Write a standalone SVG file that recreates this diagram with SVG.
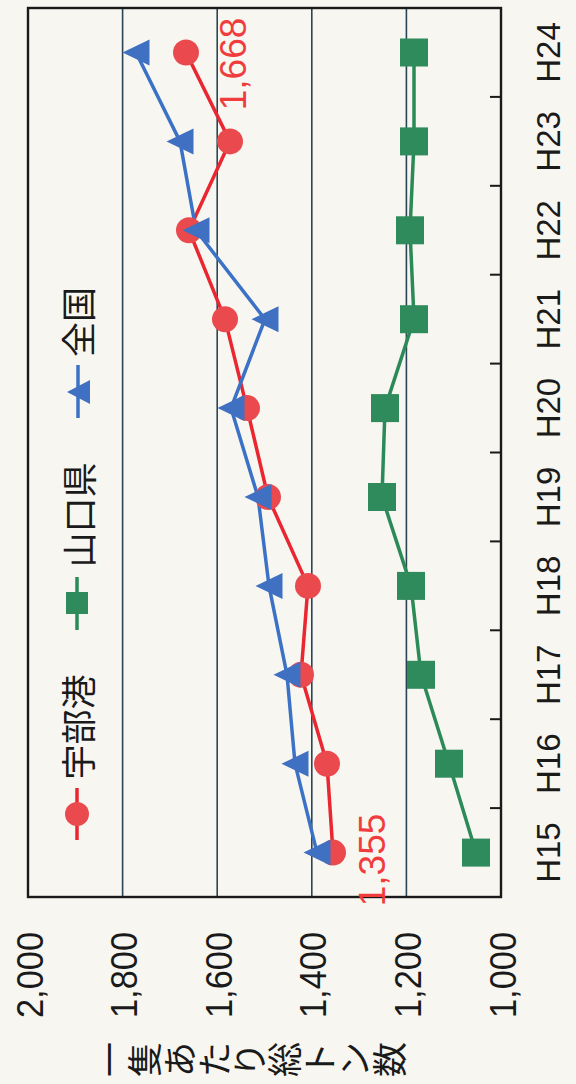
<svg xmlns="http://www.w3.org/2000/svg" width="576" height="1084" viewBox="0 0 576 1084">
<style>
.num{font-family:"Liberation Sans",Arial,sans-serif;font-size:37px;fill:#1a1a1a}
.cat{font-family:"Liberation Sans",Arial,sans-serif;font-size:33px;fill:#1a1a1a}
.jp{font-family:"Noto Sans CJK JP","Noto Sans CJK SC",sans-serif;font-size:35px;fill:#1a1a1a}
.lbl{font-family:"Liberation Sans",Arial,sans-serif;font-size:37px;fill:#f03c3c}
.grid{stroke:#2a4656;stroke-width:1.6;fill:none}
.frame{stroke:#1a1a1a;stroke-width:2.4;fill:none}
.tick{stroke:#1a1a1a;stroke-width:2}
.lred{stroke:#ea2630;stroke-width:3.5;fill:none;stroke-linejoin:round}
.lgreen{stroke:#2b8a58;stroke-width:3.5;fill:none;stroke-linejoin:round}
.lblue{stroke:#3b72c6;stroke-width:3.5;fill:none;stroke-linejoin:round}
.mred{fill:#ea4a4e}
.mgreen{fill:#2f8a5c}
.mblue{fill:#3f70c2}
</style>
<defs>
<circle id="dot" r="13"/>
<rect id="sq" x="-14" y="-14" width="28" height="28"/>
<polygon id="tri" points="-13.5,0 13.5,-13 13.5,13"/>
</defs>
<rect x="0" y="0" width="576" height="1084" fill="#f7f6f1"/>

<g id="plot-area">
<line class="grid" x1="122.6" y1="8" x2="122.6" y2="897"/>
<line class="grid" x1="217.2" y1="8" x2="217.2" y2="897"/>
<line class="grid" x1="311.8" y1="8" x2="311.8" y2="897"/>
<line class="grid" x1="406.4" y1="8" x2="406.4" y2="897"/>
<rect class="frame" x="28" y="8" width="473" height="889"/>
<g class="tick">
<line x1="490" y1="96.9" x2="501" y2="96.9"/>
<line x1="490" y1="185.8" x2="501" y2="185.8"/>
<line x1="490" y1="274.7" x2="501" y2="274.7"/>
<line x1="490" y1="363.6" x2="501" y2="363.6"/>
<line x1="490" y1="452.5" x2="501" y2="452.5"/>
<line x1="490" y1="541.4" x2="501" y2="541.4"/>
<line x1="490" y1="630.3" x2="501" y2="630.3"/>
<line x1="490" y1="719.2" x2="501" y2="719.2"/>
<line x1="490" y1="808.1" x2="501" y2="808.1"/>
</g>
</g>

<g id="value-axis-labels">
<text class="num" text-anchor="end" dominant-baseline="central" textLength="86" lengthAdjust="spacingAndGlyphs" transform="translate(30,932) rotate(-90)">2,000</text>
<text class="num" text-anchor="end" dominant-baseline="central" textLength="86" lengthAdjust="spacingAndGlyphs" transform="translate(124.6,932) rotate(-90)">1,800</text>
<text class="num" text-anchor="end" dominant-baseline="central" textLength="86" lengthAdjust="spacingAndGlyphs" transform="translate(219.2,932) rotate(-90)">1,600</text>
<text class="num" text-anchor="end" dominant-baseline="central" textLength="86" lengthAdjust="spacingAndGlyphs" transform="translate(313.8,932) rotate(-90)">1,400</text>
<text class="num" text-anchor="end" dominant-baseline="central" textLength="86" lengthAdjust="spacingAndGlyphs" transform="translate(408.4,932) rotate(-90)">1,200</text>
<text class="num" text-anchor="end" dominant-baseline="central" textLength="86" lengthAdjust="spacingAndGlyphs" transform="translate(503,932) rotate(-90)">1,000</text>
</g>

<g id="axis-title">
<text class="jp" x="123" y="1077" rotate="-90 -90 -90 -90 -90 -90 -90 -90 -90">一隻あたり総トン数</text>
</g>

<g id="category-axis-labels">
<text class="cat" text-anchor="middle" dominant-baseline="central" transform="translate(548,852.6) rotate(-90)">H15</text>
<text class="cat" text-anchor="middle" dominant-baseline="central" transform="translate(548,763.7) rotate(-90)">H16</text>
<text class="cat" text-anchor="middle" dominant-baseline="central" transform="translate(548,674.8) rotate(-90)">H17</text>
<text class="cat" text-anchor="middle" dominant-baseline="central" transform="translate(548,585.9) rotate(-90)">H18</text>
<text class="cat" text-anchor="middle" dominant-baseline="central" transform="translate(548,497) rotate(-90)">H19</text>
<text class="cat" text-anchor="middle" dominant-baseline="central" transform="translate(548,408.1) rotate(-90)">H20</text>
<text class="cat" text-anchor="middle" dominant-baseline="central" transform="translate(548,319.2) rotate(-90)">H21</text>
<text class="cat" text-anchor="middle" dominant-baseline="central" transform="translate(548,230.3) rotate(-90)">H22</text>
<text class="cat" text-anchor="middle" dominant-baseline="central" transform="translate(548,141.4) rotate(-90)">H23</text>
<text class="cat" text-anchor="middle" dominant-baseline="central" transform="translate(548,52.5) rotate(-90)">H24</text>
</g>

<g id="connectors">
<polyline class="lred" points="333,852.6 327,763.7 301,674.8 308,585.9 268,497 247,408.1 225,319.2 189,230.3 230,141.4 186,52.5"/>
<polyline class="lgreen" points="476,852.6 449,763.7 421,674.8 411,585.9 382,497 385,408.1 414,319.2 410,230.3 414,141.4 414,52.5"/>
<polyline class="lblue" points="317,852.6 295,763.7 287,674.8 269,585.9 258,497 231,408.1 265,319.2 196,230.3 180,141.4 136,52.5"/>
</g>

<g id="series-ube" class="mred">
<use href="#dot" x="333" y="852.6"/>
<use href="#dot" x="327" y="763.7"/>
<use href="#dot" x="301" y="674.8"/>
<use href="#dot" x="308" y="585.9"/>
<use href="#dot" x="268" y="497"/>
<use href="#dot" x="247" y="408.1"/>
<use href="#dot" x="225" y="319.2"/>
<use href="#dot" x="189" y="230.3"/>
<use href="#dot" x="230" y="141.4"/>
<use href="#dot" x="186" y="52.5"/>
</g>
<g id="series-yamaguchi" class="mgreen">
<use href="#sq" x="476" y="852.6"/>
<use href="#sq" x="449" y="763.7"/>
<use href="#sq" x="421" y="674.8"/>
<use href="#sq" x="411" y="585.9"/>
<use href="#sq" x="382" y="497"/>
<use href="#sq" x="385" y="408.1"/>
<use href="#sq" x="414" y="319.2"/>
<use href="#sq" x="410" y="230.3"/>
<use href="#sq" x="414" y="141.4"/>
<use href="#sq" x="414" y="52.5"/>
</g>
<g id="series-national" class="mblue">
<use href="#tri" x="317" y="852.6"/>
<use href="#tri" x="295" y="763.7"/>
<use href="#tri" x="287" y="674.8"/>
<use href="#tri" x="269" y="585.9"/>
<use href="#tri" x="258" y="497"/>
<use href="#tri" x="231" y="408.1"/>
<use href="#tri" x="265" y="319.2"/>
<use href="#tri" x="196" y="230.3"/>
<use href="#tri" x="180" y="141.4"/>
<use href="#tri" x="136" y="52.5"/>
</g>

<g id="data-labels">
<text class="lbl" text-anchor="middle" dominant-baseline="central" transform="translate(233,64) rotate(-90)">1,668</text>
<text class="lbl" text-anchor="middle" dominant-baseline="central" transform="translate(372,860) rotate(-90)">1,355</text>
</g>

<g id="legend">
<g id="legend-ube">
<line class="lred" x1="77" y1="788" x2="77" y2="840"/>
<circle class="mred" cx="77" cy="814" r="12"/>
<text class="jp" text-anchor="middle" dominant-baseline="central" transform="translate(76,727) rotate(-90)">宇部港</text>
</g>
<g id="legend-yamaguchi">
<line class="lgreen" x1="77" y1="577" x2="77" y2="630"/>
<rect class="mgreen" x="66" y="592" width="22" height="22"/>
<text class="jp" text-anchor="middle" dominant-baseline="central" transform="translate(77,515) rotate(-90)">山口県</text>
</g>
<g id="legend-national">
<line class="lblue" x1="78" y1="365" x2="78" y2="418"/>
<polygon class="mblue" points="67,392 90,380 90,404"/>
<text class="jp" text-anchor="middle" dominant-baseline="central" transform="translate(76,322) rotate(-90)">全国</text>
</g>
</g>
</svg>
